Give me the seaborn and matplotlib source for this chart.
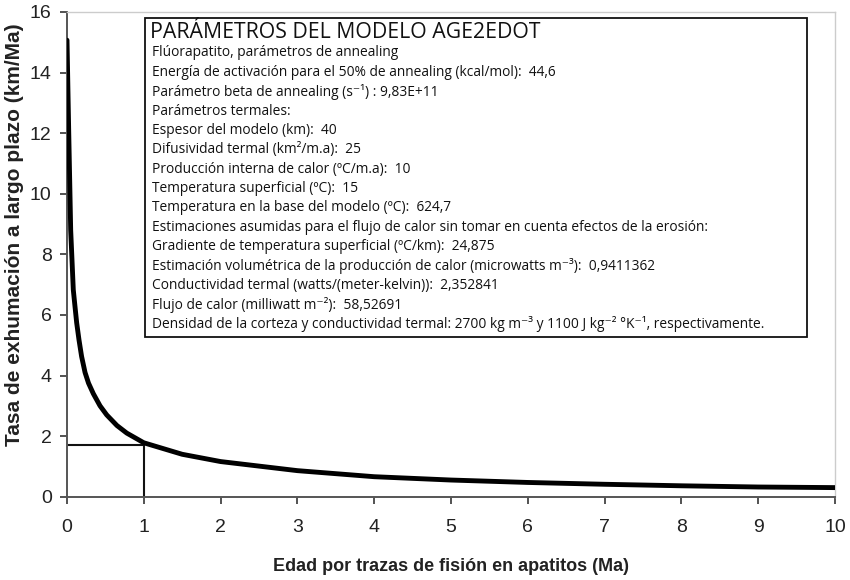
import matplotlib
matplotlib.use("Agg")
import matplotlib.pyplot as plt
import seaborn as sns
import pandas as pd
from matplotlib.patches import Rectangle

# Datos
edad_ma = [0, 0.022, 0.048, 0.082, 0.104, 0.126, 0.156, 0.19, 0.235, 0.28, 0.343,
           0.43, 0.517, 0.65, 0.778, 1.0, 1.5, 2, 3, 4, 5, 6, 7, 8, 9, 10]
tasa_km_ma = [15.07, 12.1, 8.8, 6.83, 6.28, 5.74, 5.18, 4.63, 4.1, 3.75, 3.4,
              3.0, 2.7, 2.35, 2.10, 1.78, 1.40, 1.16, 0.86, 0.66, 0.55, 0.47,
              0.41, 0.36, 0.32, 0.30]
edad_ref = 1.0
tasa_ref = 1.72

titulo_caja = "PARÁMETROS DEL MODELO AGE2EDOT"
lineas_caja = [
    "Flúorapatito, parámetros de annealing",
    "Energía de activación para el 50% de annealing (kcal/mol):  44,6",
    "Parámetro beta de annealing (s⁻¹) : 9,83E+11",
    "Parámetros termales:",
    "Espesor del modelo (km):  40",
    "Difusividad termal (km²/m.a):  25",
    "Producción interna de calor (ºC/m.a):  10",
    "Temperatura superficial (ºC):  15",
    "Temperatura en la base del modelo (ºC):  624,7",
    "Estimaciones asumidas para el flujo de calor sin tomar en cuenta efectos de la erosión:",
    "Gradiente de temperatura superficial (ºC/km):  24,875",
    "Estimación volumétrica de la producción de calor (microwatts m⁻³):  0,9411362",
    "Conductividad termal (watts/(meter-kelvin)):  2,352841",
    "Flujo de calor (milliwatt m⁻²):  58,52691",
    "Densidad de la corteza y conductividad termal: 2700 kg m⁻³ y 1100 J kg⁻² °K⁻¹, respectivamente.",
]

sns.set_style("ticks")
plt.rcParams['font.family'] = ['Liberation Sans', 'DejaVu Sans']

W, H = 850, 580
fig = plt.figure(figsize=(8.5, 5.8), dpi=100)
ax = fig.add_axes([67 / W, 1 - 496.7 / H, (835 - 67) / W, (496.7 - 12) / H])

df = pd.DataFrame({"edad": edad_ma, "tasa": tasa_km_ma})
sns.lineplot(data=df, x="edad", y="tasa", ax=ax, color="black", lw=3.5,
             solid_capstyle="round", solid_joinstyle="round", zorder=3)

# Líneas de referencia
ax.plot([0, edad_ref], [tasa_ref, tasa_ref], color="#111111", lw=1.5, zorder=2)
ax.plot([edad_ref, edad_ref], [0, tasa_ref], color="#111111", lw=1.5, zorder=2)

ax.set_xlim(0, 10)
ax.set_ylim(0, 16)
ax.set_xticks(range(0, 11))
ax.set_yticks(range(0, 17, 2))
ax.tick_params(axis="both", labelsize=14, colors="#444444", labelcolor="#222222",
               length=5, width=1.3, direction="out")
ax.tick_params(axis="x", pad=11)
ax.tick_params(axis="y", pad=6)
for s in ["left", "bottom"]:
    ax.spines[s].set_color("#555555")
    ax.spines[s].set_linewidth(1.4)
for s in ["top", "right"]:
    ax.spines[s].set_visible(True)
    ax.spines[s].set_color("#cccccc")
    ax.spines[s].set_linewidth(1.0)

ax.set_xlabel("Edad por trazas de fisión en apatitos (Ma)", fontsize=13,
              fontweight="bold", color="#222222", labelpad=16)
ax.set_ylabel("Tasa de exhumación a largo plazo (km/Ma)", fontsize=15,
              fontweight="bold", color="#222222", va="center")
ax.yaxis.set_label_coords((15 - 67) / 768, 0.54)

# Caja de parámetros (en píxeles de la figura)
def px(x, y):
    return x / W, 1 - y / H

x0, y0 = px(145, 337)
x1, y1 = px(807, 18)
fig.patches.append(Rectangle((x0, y0), x1 - x0, y1 - y0, transform=fig.transFigure,
                             facecolor="white", edgecolor="#111111", lw=1.3, zorder=5))
fam = ['Open Sans', 'DejaVu Sans']
tx, ty = px(150, 32)
fig.text(tx, ty, titulo_caja, family=fam, fontsize=15.3, color="#111111",
         va="center", ha="left", zorder=6)
for i, linea in enumerate(lineas_caja):
    tx, ty = px(152, 53 + i * 19.35)
    fig.text(tx, ty, linea, family=fam, fontsize=9.95, color="#111111",
             va="center", ha="left", zorder=6)

fig.savefig("out.png", dpi=100)
